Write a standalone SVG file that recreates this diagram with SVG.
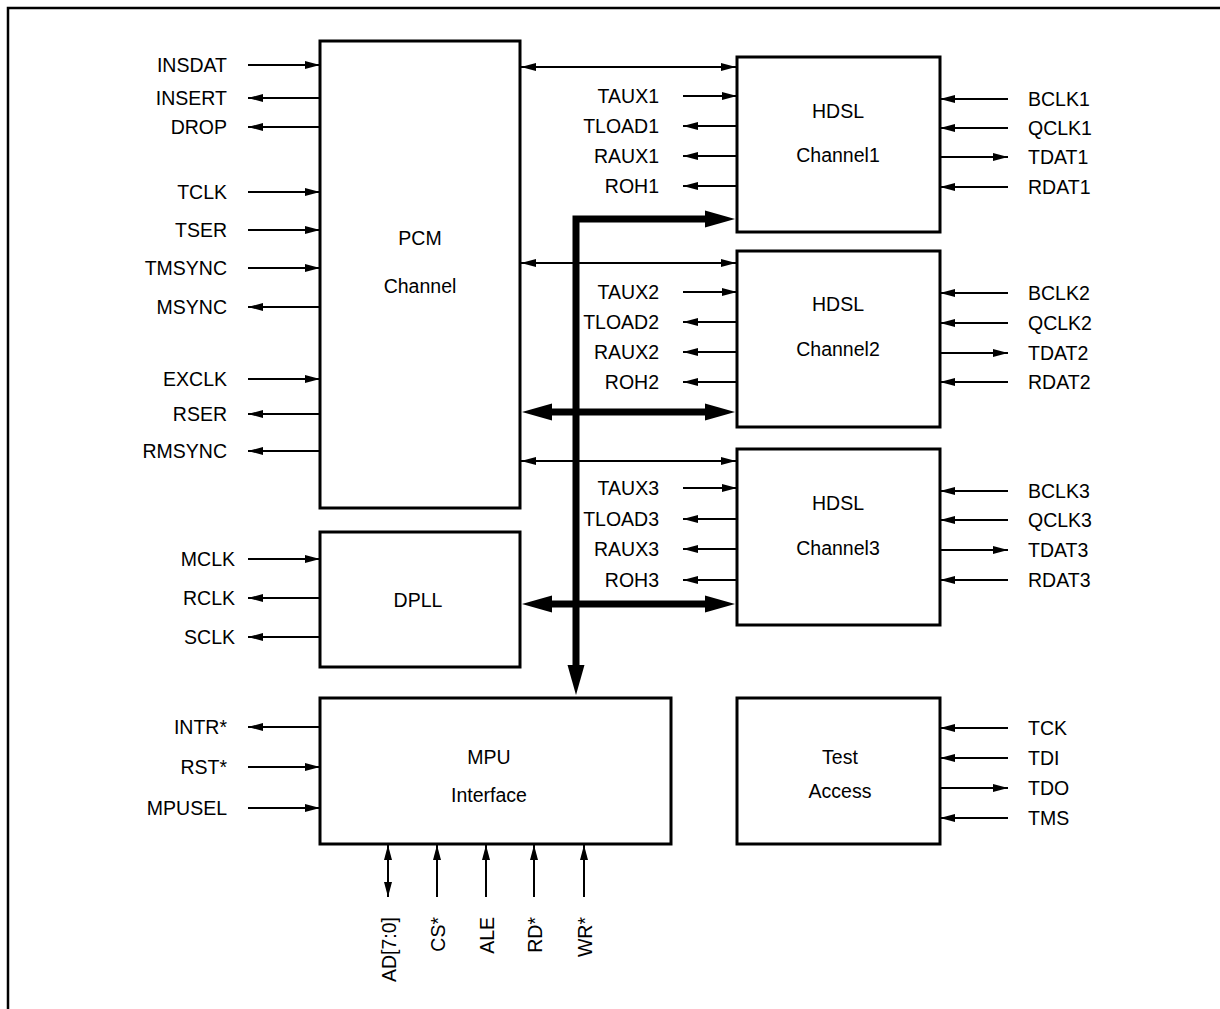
<svg xmlns="http://www.w3.org/2000/svg" width="1220" height="1009" viewBox="0 0 1220 1009">
<style>
text{font-family:"Liberation Sans",Arial,sans-serif;font-size:19.5px;fill:#000}
.l{text-anchor:end}
.c{text-anchor:middle}
.box{fill:#fff;stroke:#000;stroke-width:3}
.w{stroke:#000;stroke-width:2;fill:none}
.in{stroke:#000;stroke-width:2;fill:none;marker-end:url(#a)}
.out{stroke:#000;stroke-width:2;fill:none;marker-end:url(#a)}
.bi{stroke:#000;stroke-width:2;fill:none;marker-start:url(#a);marker-end:url(#a)}
.bus{stroke:#000;stroke-width:7;fill:none;stroke-linejoin:miter}
</style>
<defs>
<marker id="a" markerUnits="userSpaceOnUse" markerWidth="16" markerHeight="9" refX="15" refY="4" orient="auto-start-reverse" overflow="visible"><path d="M0,0 L15,4 L0,8 Z" fill="#000"/></marker>
<marker id="b" markerUnits="userSpaceOnUse" markerWidth="31" markerHeight="17" refX="1" refY="8.5" orient="auto-start-reverse" overflow="visible"><path d="M0,0 L30,8.5 L0,17 Z" fill="#000"/></marker>
</defs>
<rect width="1220" height="1009" fill="#fff"/>
<path d="M8,1009 V8 H1220" fill="none" stroke="#000" stroke-width="2.5"/>

<g id="pcm"><rect class="box" x="320" y="41" width="200" height="467"/><text class="c" x="420" y="245">PCM</text><text class="c" x="420" y="293">Channel</text></g>
<g id="dpll"><rect class="box" x="320" y="532" width="200" height="135"/><text class="c" x="418" y="607">DPLL</text></g>
<g id="mpu"><rect class="box" x="320" y="698" width="351" height="146"/><text class="c" x="489" y="764">MPU</text><text class="c" x="489" y="802">Interface</text></g>
<g id="hdsl1"><rect class="box" x="737" y="57" width="203" height="175"/><text class="c" x="838" y="118">HDSL</text><text class="c" x="838" y="162">Channel1</text></g>
<g id="hdsl2"><rect class="box" x="737" y="251" width="203" height="176"/><text class="c" x="838" y="311">HDSL</text><text class="c" x="838" y="356">Channel2</text></g>
<g id="hdsl3"><rect class="box" x="737" y="449" width="203" height="176"/><text class="c" x="838" y="510">HDSL</text><text class="c" x="838" y="555">Channel3</text></g>
<g id="test"><rect class="box" x="737" y="698" width="203" height="146"/><text class="c" x="840" y="764">Test</text><text class="c" x="840" y="798">Access</text></g>

<g id="connectors">
<!-- PCM left -->
<line class="in" x1="248" y1="65" x2="320" y2="65"/>
<line class="out" x1="320" y1="98" x2="248" y2="98"/>
<line class="out" x1="320" y1="127" x2="248" y2="127"/>
<line class="in" x1="248" y1="192" x2="320" y2="192"/>
<line class="in" x1="248" y1="230" x2="320" y2="230"/>
<line class="in" x1="248" y1="268" x2="320" y2="268"/>
<line class="out" x1="320" y1="307" x2="248" y2="307"/>
<line class="in" x1="248" y1="379" x2="320" y2="379"/>
<line class="out" x1="320" y1="414" x2="248" y2="414"/>
<line class="out" x1="320" y1="451" x2="248" y2="451"/>
<!-- DPLL -->
<line class="in" x1="248" y1="559" x2="320" y2="559"/>
<line class="out" x1="320" y1="598" x2="248" y2="598"/>
<line class="out" x1="320" y1="637" x2="248" y2="637"/>
<!-- MPU left -->
<line class="out" x1="320" y1="727" x2="248" y2="727"/>
<line class="in" x1="248" y1="767" x2="320" y2="767"/>
<line class="in" x1="248" y1="808" x2="320" y2="808"/>
<!-- MPU bottom -->
<line class="bi" x1="388" y1="845" x2="388" y2="897"/>
<line class="in" x1="437" y1="897" x2="437" y2="845"/>
<line class="in" x1="486" y1="897" x2="486" y2="845"/>
<line class="in" x1="534" y1="897" x2="534" y2="845"/>
<line class="in" x1="584" y1="897" x2="584" y2="845"/>
<!-- PCM-HDSL thin double -->
<line class="bi" x1="521" y1="67" x2="736" y2="67"/>
<line class="bi" x1="521" y1="263" x2="736" y2="263"/>
<line class="bi" x1="521" y1="461" x2="736" y2="461"/>
<!-- HDSL1 left -->
<line class="in" x1="683" y1="96" x2="737" y2="96"/>
<line class="out" x1="737" y1="126" x2="683" y2="126"/>
<line class="out" x1="737" y1="156" x2="683" y2="156"/>
<line class="out" x1="737" y1="186" x2="683" y2="186"/>
<!-- HDSL2 left -->
<line class="in" x1="683" y1="292" x2="737" y2="292"/>
<line class="out" x1="737" y1="322" x2="683" y2="322"/>
<line class="out" x1="737" y1="352" x2="683" y2="352"/>
<line class="out" x1="737" y1="382" x2="683" y2="382"/>
<!-- HDSL3 left -->
<line class="in" x1="683" y1="488" x2="737" y2="488"/>
<line class="out" x1="737" y1="519" x2="683" y2="519"/>
<line class="out" x1="737" y1="549" x2="683" y2="549"/>
<line class="out" x1="737" y1="580" x2="683" y2="580"/>
<!-- HDSL right -->
<line class="in" x1="1008" y1="99" x2="940" y2="99"/>
<line class="in" x1="1008" y1="128" x2="940" y2="128"/>
<line class="out" x1="940" y1="157" x2="1008" y2="157"/>
<line class="in" x1="1008" y1="187" x2="940" y2="187"/>
<line class="in" x1="1008" y1="293" x2="940" y2="293"/>
<line class="in" x1="1008" y1="323" x2="940" y2="323"/>
<line class="out" x1="940" y1="353" x2="1008" y2="353"/>
<line class="in" x1="1008" y1="382" x2="940" y2="382"/>
<line class="in" x1="1008" y1="491" x2="940" y2="491"/>
<line class="in" x1="1008" y1="520" x2="940" y2="520"/>
<line class="out" x1="940" y1="550" x2="1008" y2="550"/>
<line class="in" x1="1008" y1="580" x2="940" y2="580"/>
<!-- Test -->
<line class="in" x1="1008" y1="728" x2="940" y2="728"/>
<line class="in" x1="1008" y1="758" x2="940" y2="758"/>
<line class="out" x1="940" y1="788" x2="1008" y2="788"/>
<line class="in" x1="1008" y1="818" x2="940" y2="818"/>
<!-- buses -->
<path class="bus" d="M576,666 V219 H706" marker-start="url(#b)" marker-end="url(#b)"/>
<line class="bus" x1="551" y1="412" x2="706" y2="412" marker-start="url(#b)" marker-end="url(#b)"/>
<line class="bus" x1="551" y1="604" x2="706" y2="604" marker-start="url(#b)" marker-end="url(#b)"/>
</g>

<g id="labels">
<text class="l" x="227" y="72">INSDAT</text>
<text class="l" x="227" y="105">INSERT</text>
<text class="l" x="227" y="134">DROP</text>
<text class="l" x="227" y="199">TCLK</text>
<text class="l" x="227" y="237">TSER</text>
<text class="l" x="227" y="275">TMSYNC</text>
<text class="l" x="227" y="314">MSYNC</text>
<text class="l" x="227" y="386">EXCLK</text>
<text class="l" x="227" y="421">RSER</text>
<text class="l" x="227" y="458">RMSYNC</text>
<text class="l" x="235" y="566">MCLK</text>
<text class="l" x="235" y="605">RCLK</text>
<text class="l" x="235" y="644">SCLK</text>
<text class="l" x="227" y="734">INTR*</text>
<text class="l" x="227" y="774">RST*</text>
<text class="l" x="227" y="815">MPUSEL</text>
<text class="l" x="659" y="103">TAUX1</text>
<text class="l" x="659" y="133">TLOAD1</text>
<text class="l" x="659" y="163">RAUX1</text>
<text class="l" x="659" y="193">ROH1</text>
<text class="l" x="659" y="299">TAUX2</text>
<text class="l" x="659" y="329">TLOAD2</text>
<text class="l" x="659" y="359">RAUX2</text>
<text class="l" x="659" y="389">ROH2</text>
<text class="l" x="659" y="495">TAUX3</text>
<text class="l" x="659" y="526">TLOAD3</text>
<text class="l" x="659" y="556">RAUX3</text>
<text class="l" x="659" y="587">ROH3</text>
<text x="1028" y="106">BCLK1</text>
<text x="1028" y="135">QCLK1</text>
<text x="1028" y="164">TDAT1</text>
<text x="1028" y="194">RDAT1</text>
<text x="1028" y="300">BCLK2</text>
<text x="1028" y="330">QCLK2</text>
<text x="1028" y="360">TDAT2</text>
<text x="1028" y="389">RDAT2</text>
<text x="1028" y="498">BCLK3</text>
<text x="1028" y="527">QCLK3</text>
<text x="1028" y="557">TDAT3</text>
<text x="1028" y="587">RDAT3</text>
<text x="1028" y="735">TCK</text>
<text x="1028" y="765">TDI</text>
<text x="1028" y="795">TDO</text>
<text x="1028" y="825">TMS</text>
<text class="l" transform="translate(395.5,917) rotate(-90)">AD[7:0]</text>
<text class="l" transform="translate(444.5,917) rotate(-90)">CS*</text>
<text class="l" transform="translate(493.5,917) rotate(-90)">ALE</text>
<text class="l" transform="translate(541.5,917) rotate(-90)">RD*</text>
<text class="l" transform="translate(591.5,917) rotate(-90)">WR*</text>
</g>
</svg>
